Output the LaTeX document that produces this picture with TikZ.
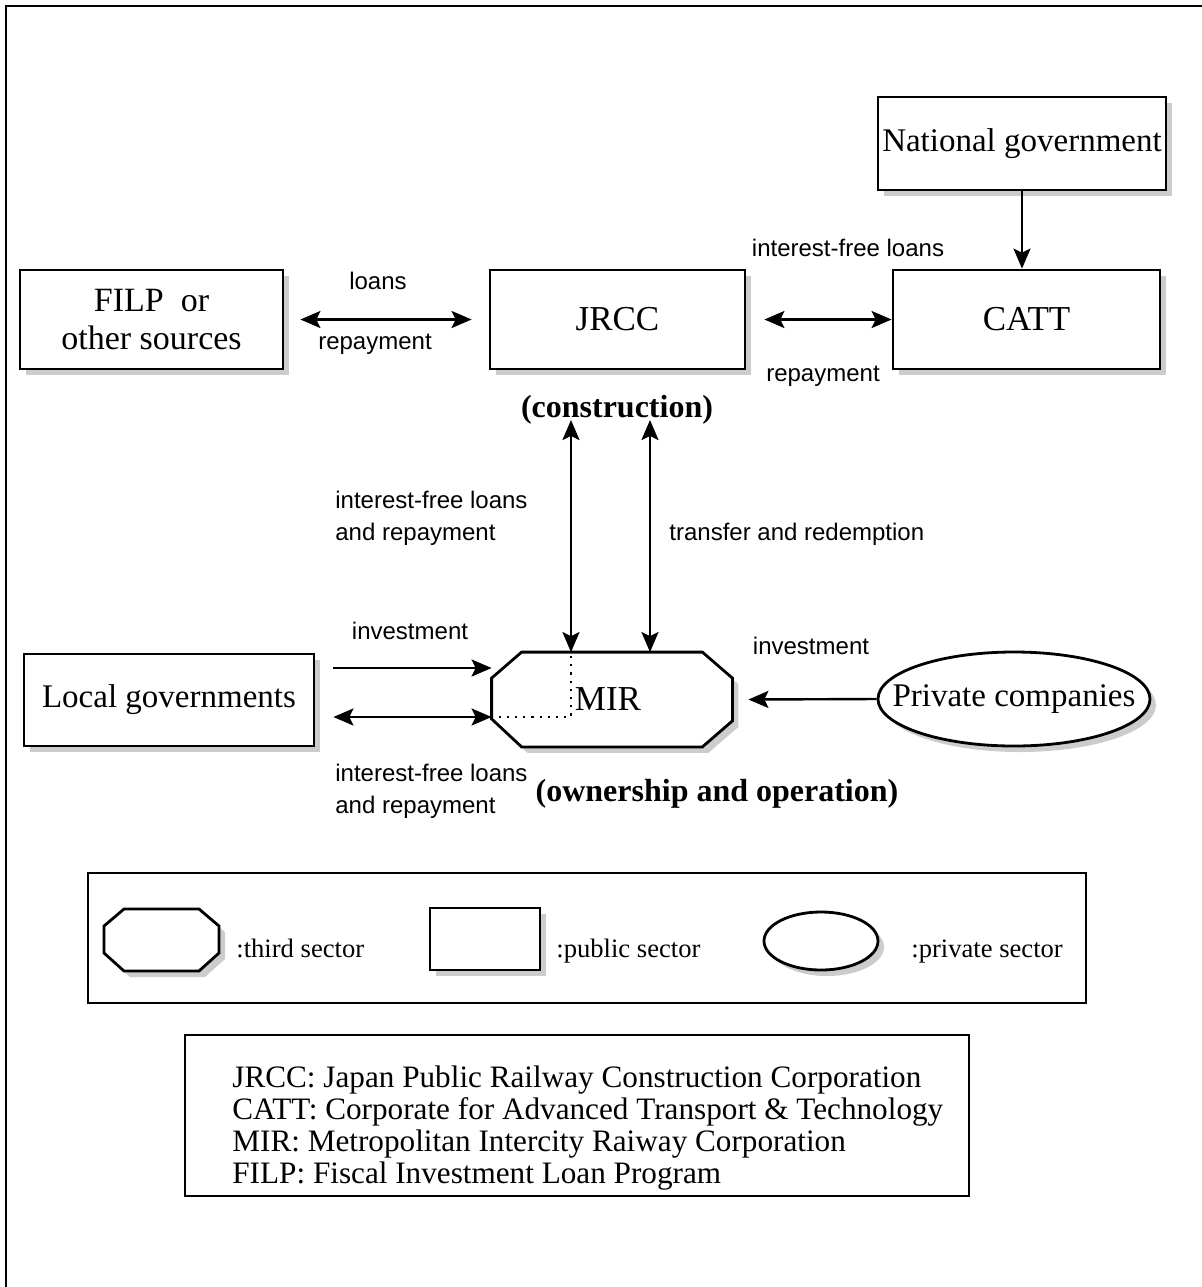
\documentclass[tikz,border=0pt]{standalone}
\usepackage{fontspec}
\setmainfont{Liberation Serif}
\setsansfont{Liberation Sans}
\usetikzlibrary{arrows.meta,shadows,shapes.geometric,calc,backgrounds}
\begin{document}
\begin{tikzpicture}[x=0.5pt,y=-0.5pt,
  shadowed/.style={drop shadow={shadow xshift=3pt,shadow yshift=-3pt,fill=black!20,opacity=1}},
  box/.style={draw,line width=1.4pt,fill=white,shadowed,inner sep=0pt,align=center,font=\fontsize{16.5}{19}\selectfont},
  lbl/.style={font=\sffamily\fontsize{12}{16}\selectfont,inner sep=0pt},
  ttl/.style={font=\bfseries\fontsize{16}{19}\selectfont,inner sep=0pt},
  leg/.style={font=\fontsize{13.3}{16}\selectfont,inner sep=0pt,anchor=base west},
  conn/.style={line width=1.2pt},
  tip/.style={-{Stealth[length=10pt,width=8.5pt,inset=2pt]}},
  dtip/.style={{Stealth[length=10pt,width=8.5pt,inset=2pt]}-{Stealth[length=10pt,width=8.5pt,inset=2pt]}},
  octa/.style={line width=1.4pt,fill=white,shadowed,line join=miter},
]
\useasboundingbox (0,0) rectangle (1202,1287);
% frame
\draw[line width=1.3pt] (6,1287) -- (6,6) -- (1202,6);

% main nodes
\node[box,minimum width=144pt,minimum height=46.5pt] (natgov) at (1022,143.5) {National government};
\node[box,minimum width=131.5pt,minimum height=49.5pt,font=\fontsize{17}{19}\selectfont] (filp) at (151.5,319.5) {FILP\ \ or\\other sources};
\node[box,minimum width=127.5pt,minimum height=49.5pt,font=\fontsize{17.5}{19}\selectfont] (jrcc) at (617.5,319.5) {JRCC};
\node[box,minimum width=133.5pt,minimum height=49.5pt,font=\fontsize{17.5}{19}\selectfont] (catt) at (1026.5,319.5) {CATT};
\node[box,minimum width=145pt,minimum height=46pt] (local) at (169,700) {Local governments};
\node[box,ellipse,minimum width=136pt,minimum height=47pt] (private) at (1014,699) {\makebox[0pt]{Private companies}};
\node[inner sep=0pt,minimum width=120pt,minimum height=47pt,font=\fontsize{17.5}{19}\selectfont] (mir) at (612,699.5) {\hspace*{-4pt}MIR};
\begin{scope}[on background layer]
\draw[octa] ($(mir.north west)+(30,0)$) -- ($(mir.north east)+(-30,0)$) -- ($(mir.north east)+(0,26)$)
  -- ($(mir.south east)+(0,-26)$) -- ($(mir.south east)+(-30,0)$) -- ($(mir.south west)+(30,0)$)
  -- ($(mir.south west)+(0,-28)$) -- ($(mir.north west)+(0,26)$) -- cycle;
\end{scope}
\draw[line width=1.1pt,dash pattern=on 1.1pt off 3pt] (571,656) -- (571,717) -- (496,717);

% labels
\node[lbl] (lloans) at (378,281) {loans};
\node[lbl] (lrep1) at (375,344) {repayment};
\node[lbl] (lifl) at (848,248) {interest-free loans};
\node[lbl] (lrep2) at (823,376) {repayment};
\node[ttl] (cons) at (617,410) {(construction)};
\node[lbl,anchor=west,align=left] (lifl2) at (335,518) {interest-free loans\\and repayment};
\node[lbl,anchor=west] (ltr) at (669,534) {transfer and redemption};
\node[lbl] (linv1) at (410,631) {investment};
\node[lbl,anchor=west,align=left] (lifl3) at (335,791) {interest-free loans\\and repayment};
\node[lbl] (linv2) at (811,646) {investment};
\node[ttl] (own) at (717,794) {(ownership and operation)};

% connectors
\draw[conn,tip] (natgov.south) -- (natgov.south |- catt.north);
\draw[conn,dtip] ([xshift=8pt]filp.east) -- ([xshift=-8.5pt]jrcc.west);
\draw[conn,dtip] ([xshift=9pt]jrcc.east) -- (catt.west);
\coordinate (v1) at (571,420);
\coordinate (v2) at (650,420);
\draw[conn,dtip] (v1) -- (v1 |- mir.north);
\draw[conn,dtip] (v2) -- (v2 |- mir.north);
\draw[conn,tip] ($(local.east)+(18,-32)$) -- ($(mir.west)+(0,-31.5)$);
\draw[conn,dtip] ($(local.east)+(18,17)$) -- ($(mir.west)+(0,17.5)$);
\draw[conn,tip] (private.west) -- ([xshift=8pt]mir.east);

% legend
\node[draw,line width=1.2pt,minimum width=499pt,minimum height=65pt,inner sep=0pt] (legend) at (587,938) {};
\draw[octa] (124,909) -- (199,909) -- (219,926) -- (219,953) -- (199,971) -- (124,971) -- (104,953) -- (104,926) -- cycle;
\node[draw,line width=1.4pt,fill=white,shadowed,minimum width=55pt,minimum height=31pt,inner sep=0pt] (legrect) at (485,939) {};
\node[draw,ellipse,line width=1.4pt,fill=white,shadowed,minimum width=57pt,minimum height=29pt,inner sep=0pt] (legell) at (821,941) {};
\node[leg] (lt1) at (236,957) {:third sector};
\node[leg] (lt2) at (556,957) {:public sector};
\node[leg] (lt3) at (911,957) {:private sector};

% abbreviations
\node[draw,line width=1.2pt,minimum width=392pt,minimum height=80.5pt,inner sep=0pt] (abbr) at (577,1115.5) {};
\node[anchor=north west,inner sep=0pt,align=left,font=\fontsize{15.6}{16}\selectfont] (abbrtxt) at (232,1065) {JRCC: Japan Public Railway Construction Corporation\\CATT: Corporate for Advanced Transport \& Technology\\MIR: Metropolitan Intercity Raiway Corporation\\FILP: Fiscal Investment Loan Program};
\end{tikzpicture}
\end{document}
